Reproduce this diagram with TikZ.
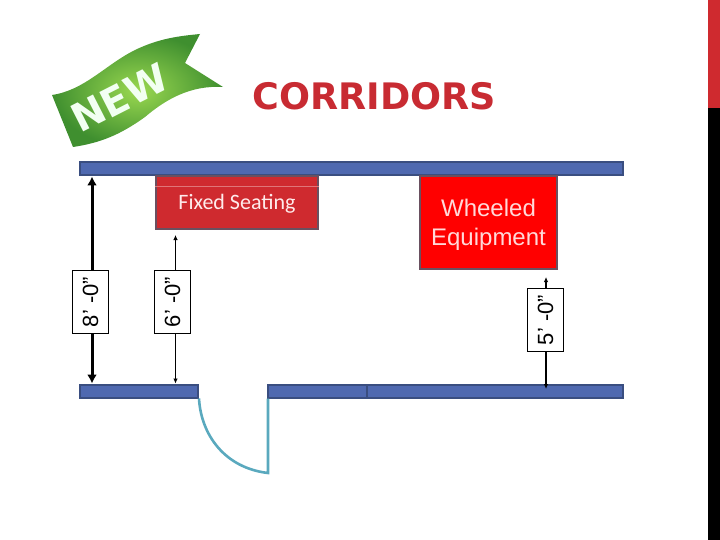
\documentclass[tikz,border=0pt]{standalone}
\usepackage{fontspec}
\setmainfont{Liberation Sans}
\newfontfamily\calibrifont{Carlito}
\newfontfamily\titlefont{DejaVu Sans}
\definecolor{wallblue}{HTML}{4F69B0}
\definecolor{wallline}{HTML}{3A4E80}
\definecolor{seatred}{HTML}{CF2A2F}
\definecolor{seatline}{HTML}{6A5060}
\definecolor{titlered}{HTML}{C82B32}
\definecolor{doorteal}{HTML}{5AA9BE}
\definecolor{ribbondark}{HTML}{3F8F2F}
\definecolor{ribbonlight}{HTML}{9AD850}
\usetikzlibrary{calc,arrows.meta}

\begin{document}
\begin{tikzpicture}[x=1pt,y=-1pt,
    wall/.style={draw=wallline,line width=2pt,fill=wallblue,inner sep=0pt,minimum height=13pt},
    seatbox/.style={draw=seatline,line width=2pt,fill=seatred,inner sep=0pt},
    dimbox/.style={draw=black,line width=1.6pt,fill=white,rotate=90,inner sep=0pt,minimum width=63pt,minimum height=36pt,font=\fontsize{22}{22}\selectfont},
    thickdim/.style={line width=3pt,-{Latex[length=9pt,width=10pt]}},
    thindim/.style={line width=.8pt,-{Latex[length=5pt,width=4.5pt]}},
    fivedim/.style={line width=1.2pt,-{Latex[length=5pt,width=4.5pt]}},
    door/.style={draw=doorteal,line width=2.6pt}]
      \useasboundingbox (0,0) rectangle (720,540);

      % side bar
      \fill[fill=seatred] (708,0) rectangle (720,108);
      \fill[fill=black] (708,108) rectangle (720,540);

      % ribbon
      \shade[inner color=ribbonlight,outer color=ribbondark]
        (52,95) .. controls (85,90) and (105,65) .. (135,50)
        .. controls (160,38) and (180,36) .. (200,34)
        -- (185,63) -- (223,87)
        .. controls (190,85) and (165,100) .. (145,117)
        .. controls (120,135) and (100,143) .. (73,147) -- cycle;
      \node[text=white!95!green,rotate=27,font=\titlefont\fontsize{39}{39}\selectfont\bfseries] (newlabel) at (120,98) {NEW};

      \node[text=titlered,font=\titlefont\fontsize{36.5}{36.5}\selectfont\bfseries] (title) at (374.5,96) {CORRIDORS};

      % walls
      \node[wall,minimum width=543pt] (topwall) at (351.5,169) {};
      \node[wall,minimum width=118pt] (leftwall) at (139,391) {};
      \node[wall,minimum width=99pt] (midwall) at (317.5,391) {};
      \node[wall,minimum width=256pt] (rightwall) at (495,391) {};

      % furniture
      \node[seatbox,minimum width=162pt,minimum height=53pt] (seating) at (237,202.5) {};
      \draw[white!35!seatred,line width=.5pt] (seating.west |- 0,186) -- (seating.east |- 0,186);
      \node[text=white!92!red,font=\calibrifont\fontsize{22}{22}\selectfont] (seatlabel) at (237,204) {Fixed Seating};
      \node[draw=seatline,line width=2pt,fill=red,text=white!85!red,inner sep=0pt,minimum width=137pt,minimum height=93pt,align=center,font=\fontsize{24}{29}\selectfont] (wheeled) at (488.5,222.5) {\rule{0pt}{21pt}Wheeled\\Equipment};

      % dimensions
      \coordinate (eightline) at (92,302);
      \coordinate (sixtop) at (175.5,235);
      \coordinate (fivetop) at (546,277);
      \coordinate (fivebot) at (546,389);
      \node[dimbox] (dimeight) at (90.5,302) {8’ -0”};
      \node[dimbox] (dimsix) at (172.5,302) {6’ -0”};
      \node[dimbox] (dimfive) at (545.5,320) {5’ -0”};

      \draw[thickdim] (dimeight.east -| eightline) -- (eightline |- topwall.south);
      \draw[thickdim] (dimeight.west -| eightline) -- (eightline |- leftwall.north);
      \draw[thindim] (dimsix.east -| sixtop) -- (sixtop);
      \draw[thindim] (dimsix.west -| sixtop) -- (sixtop |- leftwall.north);
      \draw[fivedim] (dimfive.east -| fivetop) -- (fivetop);
      \draw[fivedim] (dimfive.west -| fivebot) -- (fivebot);

      % door
      \coordinate (doortip) at (268,473);
      \draw[door] (leftwall.south east) .. controls (201,435) and (225,468) .. (doortip) -- (doortip |- midwall.south);
    \end{tikzpicture}
\end{document}
